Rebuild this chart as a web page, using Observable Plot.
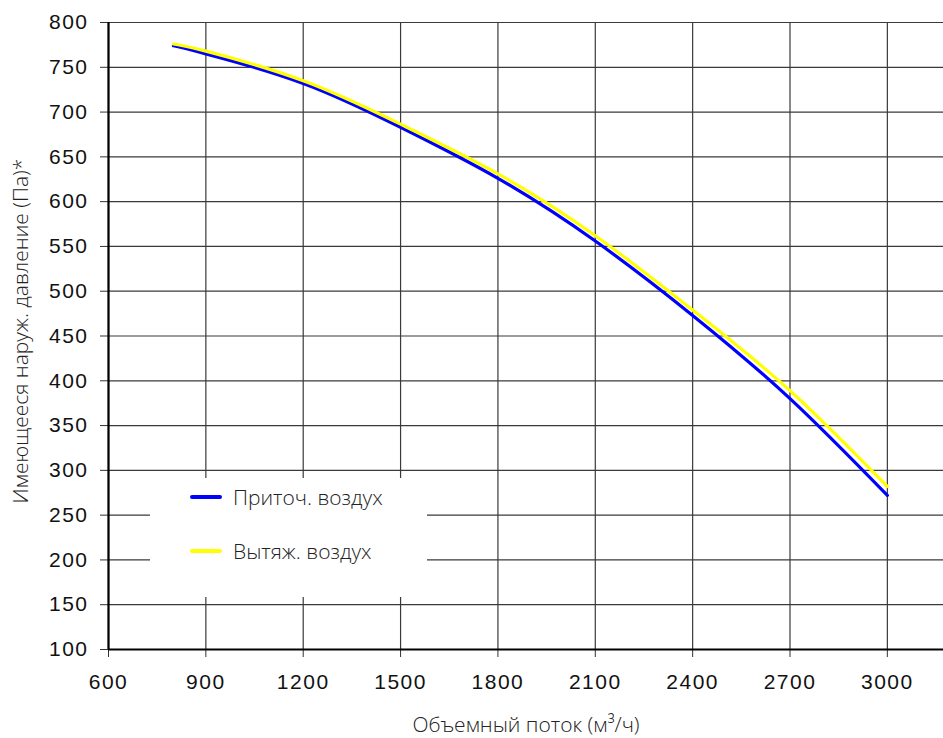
<!DOCTYPE html>
<html>
<head>
<meta charset="utf-8">
<script src="https://cdn.jsdelivr.net/npm/d3@7"></script>
<script src="https://cdn.jsdelivr.net/npm/@observablehq/plot@0.6"></script>
<style>
  html, body { margin: 0; padding: 0; background: #fff; }
  #wrap { position: relative; width: 943px; height: 738px; }
  #wrap svg g[aria-label$="tick label"] text { letter-spacing: 1.5px; }
  #legend { position: absolute; left: 150px; top: 478px; width: 277px; height: 119px; background: #fff;
    font-family: "Open Sans", "Noto Sans", sans-serif; font-weight: 300; font-size: 21px; color: #222; }
  .item { position: absolute; left: 40px; height: 26px; display: flex; align-items: center; }
  .sw { width: 32px; height: 4px; border-radius: 2px; margin-right: 11px; }
</style>
</head>
<body>
<div id="wrap"></div>
<script>
const xTicks = [600, 900, 1200, 1500, 1800, 2100, 2400, 2700, 3000];
const yTicks = [100, 150, 200, 250, 300, 350, 400, 450, 500, 550, 600, 650, 700, 750, 800];
const flow = [800, 900, 1200, 1500, 1800, 2100, 2400, 2700, 3000];
const supply = [774, 765, 732, 683, 626, 556, 473, 380, 272];
const exhaust = [776, 768, 735, 686.5, 631, 562, 479, 389, 282];
const seriesNames = ["Приточ. воздух", "Вытяж. воздух"];
const seriesColors = ["#0000ff", "#ffff00"];
const xLabel = "Объемный поток (м³/ч)";
const yLabel = "Имеющееся наруж. давление (Па)*";

const supplyData = flow.map((f, i) => ({x: f, y: supply[i]}));
const exhaustData = flow.map((f, i) => ({x: f, y: exhaust[i]}));

const labelFont = {fontFamily: "Open Sans, Noto Sans, sans-serif", fontWeight: 300, fontSize: 21, fill: "#222"};

const chart = Plot.plot({
  width: 943,
  height: 738,
  marginLeft: 108,
  marginTop: 22,
  marginBottom: 89,
  marginRight: 0,
  style: {fontFamily: "Liberation Sans, Arial, sans-serif", fontSize: "21px", color: "#111", background: "#fff"},
  x: {domain: [600, 3173]},
  y: {domain: [100, 800]},
  marks: [
    Plot.gridX(xTicks, {stroke: "#3a3a3a", strokeOpacity: 1, strokeWidth: 1.2}),
    Plot.gridY(yTicks, {stroke: "#3a3a3a", strokeOpacity: 1, strokeWidth: 1.2}),
    Plot.axisX(xTicks, {tickSize: 8, tickPadding: 17, stroke: "#333", label: null, fontSize: 21, tickFormat: d => String(d)}),
    Plot.axisY(yTicks, {tickSize: 8, tickPadding: 12, stroke: "#333", label: null, fontSize: 21, tickFormat: d => String(d)}),
    Plot.ruleX([xTicks[0]], {stroke: "#000", strokeWidth: 2.2}),
    Plot.ruleY([yTicks[0]], {stroke: "#000", strokeWidth: 2.2}),
    Plot.line(supplyData, {x: "x", y: "y", stroke: seriesColors[0], strokeWidth: 3.2, curve: "natural", strokeLinecap: "round"}),
    Plot.line(exhaustData, {x: "x", y: "y", stroke: seriesColors[1], strokeWidth: 3.2, curve: "natural", strokeLinecap: "round"}),
    Plot.text([xLabel], {frameAnchor: "bottom", dy: 82, textAnchor: "middle", ...labelFont}),
    Plot.text([yLabel], {frameAnchor: "left", dx: -87, dy: -5, rotate: -90, textAnchor: "middle", lineAnchor: "middle", ...labelFont})
  ]
});

const wrap = document.getElementById("wrap");
wrap.appendChild(chart);

const legend = document.createElement("div");
legend.id = "legend";
seriesNames.forEach((name, i) => {
  const item = document.createElement("div");
  item.className = "item";
  item.style.top = (i === 0 ? 6 : 60) + "px";
  const sw = document.createElement("div");
  sw.className = "sw";
  sw.style.background = seriesColors[i];
  const t = document.createElement("span");
  t.textContent = name;
  item.appendChild(sw);
  item.appendChild(t);
  legend.appendChild(item);
});
wrap.appendChild(legend);
</script>
</body>
</html>
